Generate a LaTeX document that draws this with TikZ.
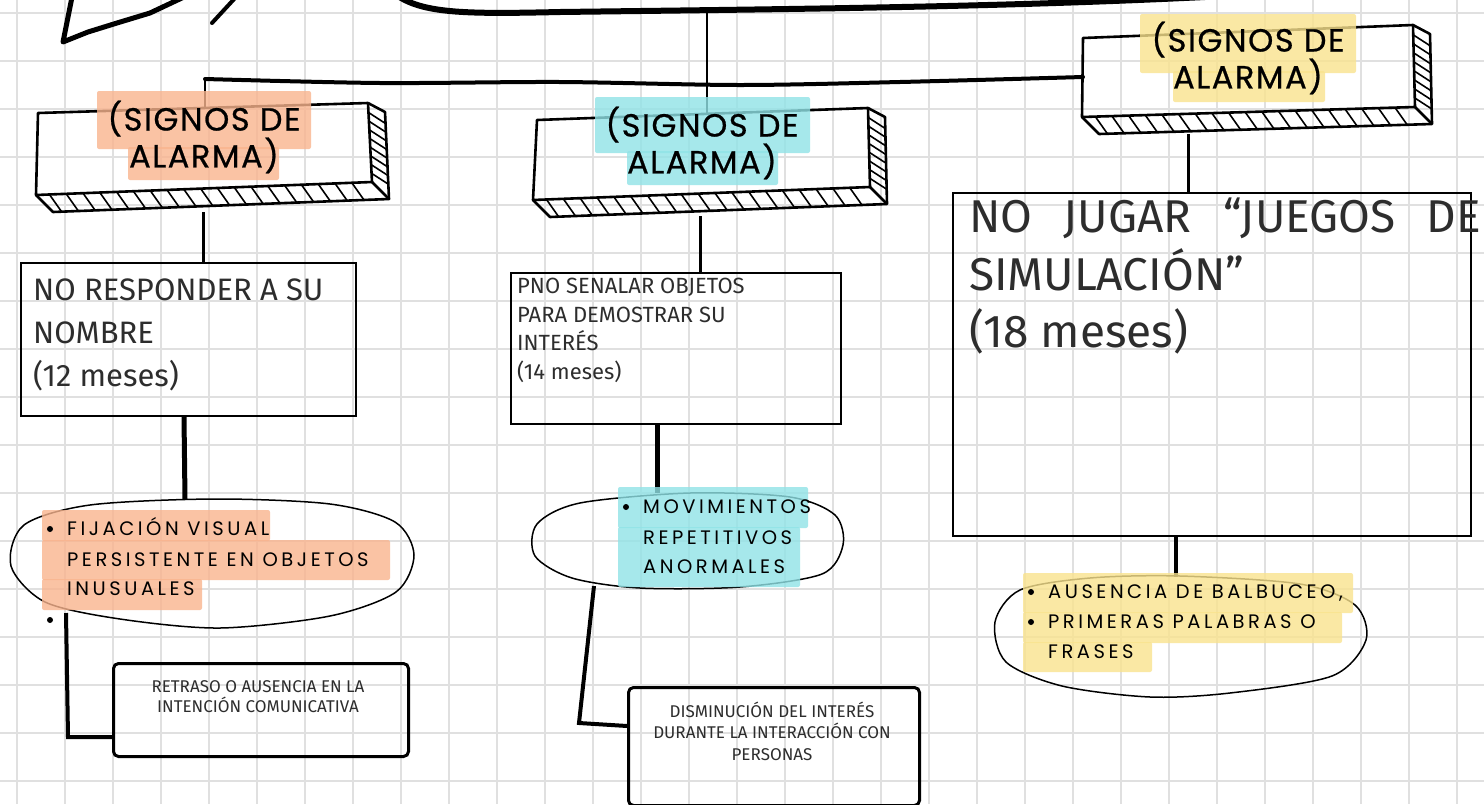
\documentclass[tikz,border=0pt]{standalone}
\usepackage{fontspec}
\usetikzlibrary{calc}
\newfontfamily\headfont[FakeBold=0.7,LetterSpace=5]{Poppins}
\newfontfamily\handspaced[LetterSpace=18]{Poppins}
\newfontfamily\condfont{Fira Sans}
\definecolor{gridc}{RGB}{224,224,224}
\definecolor{hlorange}{RGB}{249,180,142}
\definecolor{hlcyan}{RGB}{144,227,231}
\definecolor{hlyellow}{RGB}{249,227,142}
\definecolor{txt}{RGB}{45,45,45}
\newcommand{\drawslab}[1]{%
  \draw[slabline] (#1TL) -- (#1TR) -- (#1BR) -- (#1BL) -- cycle;
  \draw[slabline] (#1TR) -- ($(#1TR)+(17,9)$) -- ($(#1BR)+(17,17)$) -- ($(#1BL)+(17,17)$) -- (#1BL);
  \draw[slabline] (#1BR) -- ($(#1BR)+(17,17)$);
  \foreach \t in {0.04,0.09,...,0.97} \draw[hatch] ($(#1BL)!\t!(#1BR)$) -- ++(12,17);
  \foreach \t in {0.12,0.23,...,0.95} \draw[hatch] ($(#1TR)!\t!(#1BR)$) -- ++(17,11);
}
\begin{document}
\begin{tikzpicture}[x=1pt,y=-1pt,
  gridline/.style={gridc,line width=1.5},
  slabline/.style={line width=2.6,line join=round},
  hatch/.style={line width=1.6},
  textbox/.style={draw,line width=2,minimum width=#1,inner sep=0,anchor=north west},
  smallbox/.style={draw,line width=3,rounded corners=5,inner sep=0,anchor=north west},
  conn/.style={line width=3},
  thickconn/.style={line width=5},
  blob/.style={line width=1.5},
  hl/.style={fill=#1,fill opacity=0.8,rounded corners=2},
  heading/.style={font=\headfont\fontsize{32}{32}\selectfont,align=center,inner sep=0},
  boxtext/.style={font=\condfont\fontsize{#1}{#1}\selectfont,text=txt,inner sep=0,anchor=base west},
  smalltext/.style={font=\condfont\fontsize{17}{21}\selectfont,text=txt,inner sep=0,anchor=base},
  bullettext/.style={font=\handspaced\fontsize{19.5}{19.5}\selectfont,inner sep=0,anchor=base west},
  bulletdot/.style={circle,fill=black,inner sep=0,minimum size=6}
]
\useasboundingbox (0,0) rectangle (1484,804);
\fill[white] (0,0) rectangle (1484,804);
\foreach \i in {0,...,31} \draw[gridline] ({17+48*\i},0) -- ({17+48*\i},804);
\foreach \j in {0,...,16} \draw[gridline] (0,{13+48*\j}) -- (1484,{13+48*\j});

% top strokes
\draw[line width=5,line join=round,line cap=round] (72,-3) -- (63,42) -- (88,32) -- (117,23) -- (150,13) -- (184,-3);
\draw[line width=4,line cap=round] (212,23) -- (236,-3);
\draw[line width=6] (398,-4) .. controls (425,14) and (470,14) .. (560,12) .. controls (800,9) and (1000,7) .. (1205,-3);

% slab coordinates
\coordinate (aTL) at (38,113); \coordinate (aTR) at (368,103); \coordinate (aBR) at (372,182); \coordinate (aBL) at (36,195);
\coordinate (bTL) at (537,120); \coordinate (bTR) at (868,108); \coordinate (bBR) at (870,187); \coordinate (bBL) at (533,200);
\coordinate (cTL) at (1083,38); \coordinate (cTR) at (1413,25); \coordinate (cBR) at (1415,107); \coordinate (cBL) at (1082,117);

% tree lines
\coordinate (topjoin) at (707,11);
\coordinate (midslabtop) at (707,114);
\draw[line width=2.5] (topjoin) -- (midslabtop);
\coordinate (hleft) at (205,79);
\coordinate (hright) at (1083,77);
\draw[line width=4,line cap=round] plot[smooth] coordinates {(hleft) (380,83) (560,82) (740,85) (900,82) (hright)};
\coordinate (leftslabtop) at (205,108);
\draw[line width=2] (hleft) -- (leftslabtop);

\drawslab{a}
\drawslab{b}
\drawslab{c}

% level-2 boxes
\node[textbox=335,minimum height=153] (box1) at (20,262) {};
\node[textbox=330,minimum height=151] (box2) at (510,272) {};
\node[textbox=518,minimum height=343] (box3) at (952,192) {};

\draw[conn] (203,212) -- (box1.north -| 203,0);
\draw[conn] (700,216) -- (box2.north -| 700,0);
\draw[conn] (1188,134) -- (box3.north -| 1188,0);

% blobs
\draw[blob] plot[smooth cycle] coordinates {(215,499) (330,504) (395,522) (414,555) (396,592) (330,616) (220,628) (120,619) (45,602) (11,566) (24,525) (90,505)};
\draw[blob] plot[smooth cycle] coordinates {(690,493) (790,497) (835,515) (843,545) (822,574) (740,587) (640,588) (572,578) (535,556) (537,524) (580,503)};
\draw[blob] plot[smooth cycle] coordinates {(1180,576) (1300,584) (1355,605) (1366,640) (1332,676) (1230,693) (1150,697) (1062,686) (1006,662) (995,622) (1020,590) (1090,578)};
\coordinate (blob1top) at (185,499);
\coordinate (blob2top) at (657,493);
\coordinate (blob3top) at (1176,577);
\draw[thickconn] (box1.south -| 184,0) -- (blob1top);
\draw[thickconn] (box2.south -| 657,0) -- (blob2top);
\draw[line width=4] (box3.south -| 1176,0) -- (blob3top);

% bottom boxes and connectors
\node[smallbox,minimum width=295,minimum height=93] (low1) at (112,662) {};
\node[smallbox,minimum width=291,minimum height=118] (low2) at (627,686) {};
\coordinate (l1a) at (66,613);
\coordinate (l1b) at (68,737);
\draw[line width=4] (l1a) -- (l1b) -- (low1.west |- l1b);
\coordinate (l2a) at (594,586);
\coordinate (l2b) at (579,723);
\draw[line width=4] (l2a) -- (l2b) -- (low2.west |- 0,726);

% highlights
\fill[hl=hlorange] (97,91) rectangle (311,149);
\fill[hl=hlorange] (128,147) rectangle (279,180);
\fill[hl=hlcyan] (595,97) rectangle (810,153);
\fill[hl=hlcyan] (627,151) rectangle (778,185);
\fill[hl=hlyellow] (1140,14) rectangle (1356,73);
\fill[hl=hlyellow] (1173,71) rectangle (1325,102);
\fill[hl=hlorange] (42,510) rectangle (270,541);
\fill[hl=hlorange] (42,540) rectangle (390,580);
\fill[hl=hlorange] (42,579) rectangle (202,610);
\fill[hl=hlcyan] (618,487) rectangle (808,528);
\fill[hl=hlcyan] (618,527) rectangle (800,587);
\fill[hl=hlyellow] (1023,573) rectangle (1353,613);
\fill[hl=hlyellow] (1023,612) rectangle (1342,643);
\fill[hl=hlyellow] (1023,642) rectangle (1152,672);

% headings
\node[heading] (h1) at (204,137) {(SIGNOS DE\\ALARMA)};
\node[heading] (h2) at (702,143) {(SIGNOS DE\\ALARMA)};
\node[heading] (h3) at (1248,58) {(SIGNOS DE\\ALARMA)};

% box texts
\node[boxtext=31] (t1a) at (33,300) {NO RESPONDER A SU};
\node[boxtext=31] (t1b) at (33,343) {NOMBRE};
\node[boxtext=31] (t1c) at (33,386) {(12 meses)};
\node[boxtext=22] (t2a) at (517,293) {PNO SENALAR OBJETOS};
\node[boxtext=22] (t2b) at (517,322) {PARA DEMOSTRAR SU};
\node[boxtext=22] (t2c) at (517,350) {INTERÉS};
\node[boxtext=22] (t2d) at (517,379) {(14 meses)};
\node[boxtext=46] (t3a) at (969,232) {\hbox to 512pt{NO\hfill JUGAR\hfill “JUEGOS\hfill DE}};
\node[boxtext=46] (t3b) at (969,290) {SIMULACIÓN”};
\node[boxtext=46] (t3c) at (969,347) {(18 meses)};

% bullets
\node[bulletdot] (d1) at (50,529) {};
\node[bulletdot] (d2) at (50,620) {};
\node[bullettext] (u1a) at (67,535) {FIJACIÓN VISUAL};
\node[bullettext] (u1b) at (67,566) {PERSISTENTE EN OBJETOS};
\node[bullettext] (u1c) at (67,595) {INUSUALES};
\node[bulletdot] (d3) at (626,507) {};
\node[bullettext] (u2a) at (643,513) {MOVIMIENTOS};
\node[bullettext] (u2b) at (643,544) {REPETITIVOS};
\node[bullettext] (u2c) at (643,573) {ANORMALES};
\node[bulletdot] (d4) at (1031,592) {};
\node[bulletdot] (d5) at (1031,622) {};
\node[bullettext] (u3a) at (1048,598) {AUSENCIA DE BALBUCEO,};
\node[bullettext] (u3b) at (1048,628) {PRIMERAS PALABRAS O};
\node[bullettext] (u3c) at (1048,658) {FRASES};

% bottom texts
\node[smalltext] (s1a) at (258,692) {RETRASO O AUSENCIA EN LA};
\node[smalltext] (s1b) at (258,712) {INTENCIÓN COMUNICATIVA};
\node[smalltext] (s2a) at (772,717) {DISMINUCIÓN DEL INTERÉS};
\node[smalltext] (s2b) at (772,738) {DURANTE LA INTERACCIÓN CON};
\node[smalltext] (s2c) at (772,760) {PERSONAS};
\end{tikzpicture}
\end{document}
